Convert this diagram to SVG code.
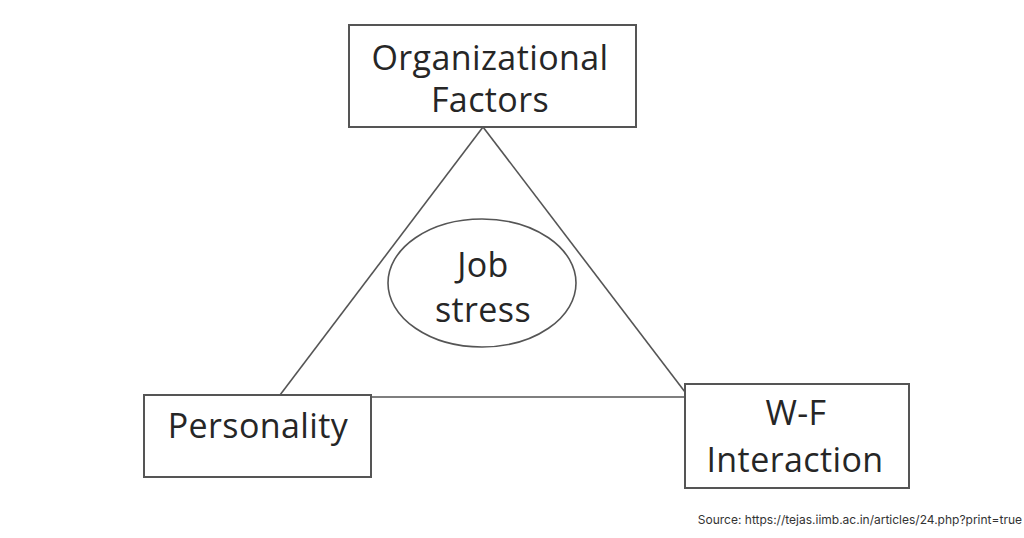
<svg xmlns="http://www.w3.org/2000/svg" width="1024" height="538" viewBox="0 0 1024 538">
<style>
.box{fill:#fff;stroke:#555;stroke-width:2}
.ln{fill:none;stroke:#555;stroke-width:1.6}
.t{font-family:"Open Sans","Liberation Sans",sans-serif;font-size:34px;letter-spacing:0.4px;fill:#262626;text-anchor:middle}
.src{font-family:"Inter","Liberation Sans",sans-serif;font-size:12px;fill:#333;text-anchor:end}
</style>
<rect width="1024" height="538" fill="#fff"/>
<g id="connectors">
<line class="ln" x1="483" y1="127" x2="280" y2="395"/>
<line class="ln" x1="483" y1="127" x2="685" y2="392"/>
<line class="ln" x1="371" y1="397" x2="685" y2="397"/>
</g>
<g id="org">
<rect class="box" x="349" y="25" width="287" height="102"/>
<text class="t" x="490" y="70">Organizational</text>
<text class="t" x="490" y="112">Factors</text>
</g>
<g id="job">
<ellipse cx="482" cy="283" rx="94" ry="64" fill="#fff" stroke="#555" stroke-width="1.6"/>
<text class="t" x="483" y="277">Job</text>
<text class="t" x="483" y="322">stress</text>
</g>
<g id="personality">
<rect class="box" x="144" y="395" width="227" height="82"/>
<text class="t" x="258" y="438">Personality</text>
</g>
<g id="wf">
<rect class="box" x="685" y="384" width="224" height="104"/>
<text class="t" x="796" y="425">W-F</text>
<text class="t" x="795" y="472">Interaction</text>
</g>
<text class="src" x="1022" y="524">Source: https://tejas.iimb.ac.in/articles/24.php?print=true</text>
</svg>
